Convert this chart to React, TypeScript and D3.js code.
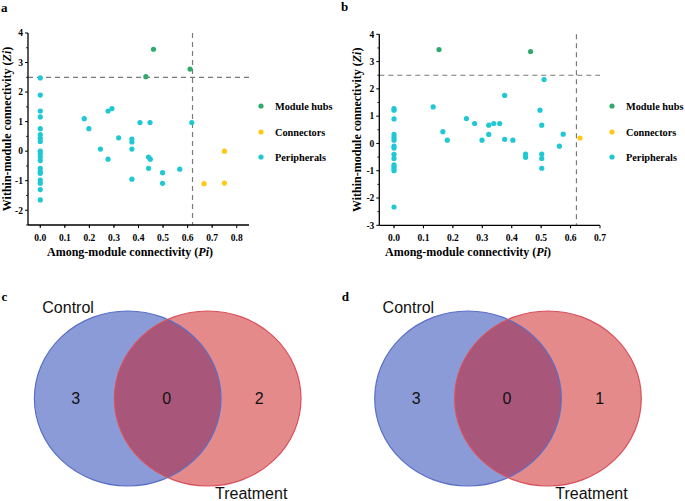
import React from "react";
import * as d3 from "d3";

// ---------- DATA ----------
const legendLabels = ["Module hubs", "Connectors", "Peripherals"];
const seriesColors = ["#2faa6c", "#ffc815", "#1fc8d3"];

// Panel a: [Pi, Zi]
const aHubs: [number, number][] = [[0.461, 3.45], [0.43, 2.52], [0.61, 2.78]];
const aConnectors: [number, number][] = [[0.75, 0.0], [0.667, -1.1], [0.75, -1.08]];
const aPeripherals: [number, number][] = [
  [0, 2.48], [0, 1.9], [0, 1.36], [0, 1.16], [0, 0.76], [0, 0.56], [0, 0.44], [0, 0.33],
  [0, 0.0], [0, -0.09], [0, -0.2], [0, -0.32], [0, -0.58], [0, -0.69], [0, -0.75],
  [0, -0.98], [0, -1.09], [0, -1.3], [0, -1.65],
  [0.179, 1.1], [0.198, 0.76], [0.245, 0.07], [0.276, -0.27], [0.276, 1.36], [0.292, 1.44],
  [0.319, 0.45], [0.373, 0.41], [0.373, 0.31], [0.373, 0.07], [0.373, -0.95], [0.406, 0.97],
  [0.447, 0.97], [0.441, -0.2], [0.448, -0.27], [0.441, -0.58], [0.498, -0.73], [0.498, -1.09],
  [0.568, -0.61], [0.617, 0.97],
];

// Panel b: [Pi, Zi]
const bHubs: [number, number][] = [[0.153, 3.44], [0.464, 3.37]];
const bConnectors: [number, number][] = [[0.632, 0.2]];
const bPeripherals: [number, number][] = [
  [0, 1.28], [0, 1.22], [0, 0.9], [0, 0.33], [0, 0.22], [0, 0.12], [0, -0.1], [0, -0.17],
  [0, -0.4], [0, -0.55], [0, -0.78], [0, -0.85], [0, -0.93], [0, -1.0], [0, -2.33],
  [0.133, 1.34], [0.166, 0.43], [0.181, 0.12], [0.246, 0.91], [0.274, 0.73], [0.299, 0.12],
  [0.322, 0.67], [0.322, 0.33], [0.339, 0.73], [0.359, 0.73], [0.376, 1.76], [0.376, 0.15],
  [0.404, 0.12], [0.447, -0.39], [0.447, -0.51], [0.496, 1.22], [0.502, 0.67], [0.502, -0.39],
  [0.502, -0.55], [0.502, -0.91], [0.51, 2.34], [0.562, -0.1], [0.575, 0.34],
];

const aXTicks = [0, 0.1, 0.2, 0.3, 0.4, 0.5, 0.6, 0.7, 0.8];
const aYTicks = [-2, -1, 0, 1, 2, 3, 4];
const bXTicks = [0, 0.1, 0.2, 0.3, 0.4, 0.5, 0.6, 0.7];
const bYTicks = [-3, -2, -1, 0, 1, 2, 3, 4];
const ziThreshold = 2.5;
const piThreshold = 0.62;

// Venn
const vennSetLabels = ["Control", "Treatment"];
const vennC = [3, 0, 2];
const vennD = [3, 0, 1];

const serif = "'Liberation Serif', 'Times New Roman', serif";
const sans = "'Liberation Sans', Arial, sans-serif";

type Pt = [number, number];

function Scatter(props: {
  id: string;
  letter: string;
  letterPos: [number, number];
  xDomain: [number, number];
  xRange: [number, number];
  yDomain: [number, number];
  yRange: [number, number];
  xTicks: number[];
  yTicks: number[];
  series: Pt[][];
  legendX: number;
  yTitleX: number;
  xTitleCenter: number;
}) {
  const x = d3.scaleLinear().domain(props.xDomain).range(props.xRange);
  const y = d3.scaleLinear().domain(props.yDomain).range(props.yRange);
  const [x0, x1] = props.xRange;
  const [yb, yt] = props.yRange;
  const xMinor = d3.range(props.xDomain[0] + 0.1, props.xDomain[1], 0.1).filter((v) => v > props.xDomain[0] + 1e-6);
  const yMinor = d3.range(props.yDomain[0] + (Number.isInteger(props.yDomain[0]) ? 0.5 : 0), props.yDomain[1], 1);
  const legendY = [106, 132, 157];
  return (
    <g>
      <text x={props.letterPos[0]} y={props.letterPos[1]} fontFamily={serif} fontWeight="bold" fontSize={13}>
        {props.letter}
      </text>
      {/* threshold lines */}
      <line x1={x0} x2={x1} y1={y(ziThreshold)} y2={y(ziThreshold)} stroke="#7a7a7a" strokeWidth={1.2} strokeDasharray="5,4" />
      <line x1={x(piThreshold)} x2={x(piThreshold)} y1={yt} y2={yb} stroke="#7a7a7a" strokeWidth={1.2} strokeDasharray="5,4" />
      {/* points */}
      {props.series.map((s, i) =>
        s.map((p, j) => <circle key={`${i}-${j}`} cx={x(p[0])} cy={y(p[1])} r={2.6} fill={seriesColors[i]} />)
      )}
      {/* axes */}
      <line x1={x0} x2={x0} y1={yt} y2={yb} stroke="#000" strokeWidth={1.3} />
      <line x1={x0} x2={x1} y1={yb} y2={yb} stroke="#000" strokeWidth={1.3} />
      {props.yTicks.map((t) => (
        <g key={`yt${t}`}>
          <line x1={x0 - 3} x2={x0} y1={y(t)} y2={y(t)} stroke="#000" strokeWidth={1} />
          <text x={x0 - 5} y={y(t) + 3.3} textAnchor="end" fontFamily={serif} fontWeight="bold" fontSize={9.5}>
            {t}
          </text>
        </g>
      ))}
      {yMinor.map((t) => (
        <line key={`ym${t}`} x1={x0 - 2} x2={x0} y1={y(t)} y2={y(t)} stroke="#000" strokeWidth={0.8} />
      ))}
      {props.xTicks.map((t) => (
        <g key={`xt${t}`}>
          <line x1={x(t)} x2={x(t)} y1={yb} y2={yb + 3} stroke="#000" strokeWidth={1} />
          <text x={x(t)} y={yb + 16} textAnchor="middle" fontFamily={serif} fontWeight="bold" fontSize={9.5}>
            {t.toFixed(1)}
          </text>
        </g>
      ))}
      {xMinor.map((t) => (
        <line key={`xm${t}`} x1={x(t - 0.05)} x2={x(t - 0.05)} y1={yb} y2={yb + 2} stroke="#000" strokeWidth={0.8} />
      ))}
      {/* titles */}
      <text
        transform={`translate(${props.yTitleX},${(yt + yb) / 2}) rotate(-90)`}
        textAnchor="middle"
        fontFamily={serif}
        fontWeight="bold"
        fontSize={12}
      >
        Within-module connectivity (<tspan fontStyle="italic">Zi</tspan>)
      </text>
      <text x={props.xTitleCenter} y={256} textAnchor="middle" fontFamily={serif} fontWeight="bold" fontSize={12}>
        Among-module connectivity (<tspan fontStyle="italic">Pi</tspan>)
      </text>
      {/* legend */}
      {legendLabels.map((l, i) => (
        <g key={l}>
          <circle cx={props.legendX} cy={legendY[i]} r={2.6} fill={seriesColors[i]} />
          <text x={props.legendX + 14} y={legendY[i] + 3.6} fontFamily={serif} fontWeight="bold" fontSize={10.3}>
            {l}
          </text>
        </g>
      ))}
    </g>
  );
}

function Venn(props: { id: string; letter: string; ox: number; counts: number[] }) {
  const cy = 398.5;
  const rx = 93.3;
  const ry = 87.5;
  const cxL = props.ox + 127.7;
  const cxR = props.ox + 207.7;
  const numX = [props.ox + 75.8, props.ox + 166.7, props.ox + 259.3];
  return (
    <g>
      <defs>
        <clipPath id={`clip-${props.id}`}>
          <ellipse cx={cxL} cy={cy} rx={rx} ry={ry} />
        </clipPath>
      </defs>
      <text x={props.ox + 1.5} y={300.5} fontFamily={serif} fontWeight="bold" fontSize={13}>
        {props.letter}
      </text>
      <ellipse cx={cxL} cy={cy} rx={rx} ry={ry} fill="#8a9bd7" />
      <ellipse cx={cxR} cy={cy} rx={rx} ry={ry} fill="#e58a8a" />
      <ellipse cx={cxR} cy={cy} rx={rx} ry={ry} fill="#a8577a" clipPath={`url(#clip-${props.id})`} />
      <ellipse cx={cxL} cy={cy} rx={rx} ry={ry} fill="none" stroke="#5a6ec8" strokeWidth={1.2} />
      <ellipse cx={cxR} cy={cy} rx={rx} ry={ry} fill="none" stroke="#d9505c" strokeWidth={1.2} />
      {props.counts.map((c, i) => (
        <text key={i} x={numX[i]} y={404} textAnchor="middle" fontFamily={sans} fontSize={16} fill="#111">
          {c}
        </text>
      ))}
      <text x={props.ox + 42.3} y={313} fontFamily={sans} fontSize={16} fill="#111">
        {vennSetLabels[0]}
      </text>
      <text x={props.ox + 215} y={499} fontFamily={sans} fontSize={16} fill="#111">
        {vennSetLabels[1]}
      </text>
    </g>
  );
}

export default function App() {
  return (
    <svg width={685} height={501} style={{ position: "absolute", left: 0, top: 0, background: "#fff" }}>
      <rect width={685} height={501} fill="#fff" />
      <Scatter
        id="a"
        letter="a"
        letterPos={[1, 12]}
        xDomain={[-0.05, 0.85]}
        xRange={[28, 249]}
        yDomain={[-2.5, 4]}
        yRange={[225, 33]}
        xTicks={aXTicks}
        yTicks={aYTicks}
        series={[aHubs, aConnectors, aPeripherals]}
        legendX={261}
        yTitleX={11}
        xTitleCenter={130}
      />
      <Scatter
        id="b"
        letter="b"
        letterPos={[341, 11]}
        xDomain={[-0.05, 0.7]}
        xRange={[379.3, 600]}
        yDomain={[-3, 4]}
        yRange={[225.3, 34.3]}
        xTicks={bXTicks}
        yTicks={bYTicks}
        series={[bHubs, bConnectors, bPeripherals]}
        legendX={612}
        yTitleX={361}
        xTitleCenter={468}
      />
      <Venn id="c" letter="c" ox={0} counts={vennC} />
      <Venn id="d" letter="d" ox={340.3} counts={vennD} />
    </svg>
  );
}
